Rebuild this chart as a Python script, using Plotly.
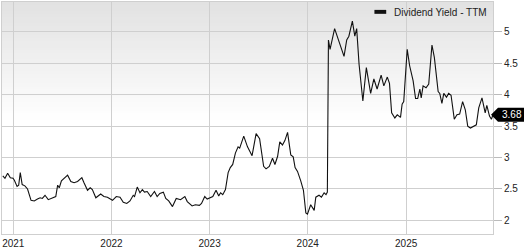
import plotly.graph_objects as go

series_name = "Dividend Yield - TTM"

dates = [
    "2020-11-23", "2020-12-01", "2020-12-11", "2020-12-21", "2020-12-31",
    "2021-01-05", "2021-01-15", "2021-01-21", "2021-01-27", "2021-02-03",
    "2021-02-13", "2021-02-23", "2021-03-08", "2021-03-20", "2021-04-01",
    "2021-04-11", "2021-04-19", "2021-04-29", "2021-05-11", "2021-05-21",
    "2021-05-31", "2021-06-08", "2021-06-15", "2021-06-21", "2021-06-29",
    "2021-07-22", "2021-08-03", "2021-08-15", "2021-08-28", "2021-09-13",
    "2021-09-21", "2021-10-04", "2021-10-14", "2021-10-22", "2021-11-04",
    "2021-11-22", "2021-12-04", "2021-12-17", "2022-01-05", "2022-01-19",
    "2022-02-02", "2022-02-14", "2022-02-27", "2022-03-11", "2022-03-23",
    "2022-03-28", "2022-04-07", "2022-04-17", "2022-04-26", "2022-05-04",
    "2022-05-14", "2022-05-27", "2022-06-10", "2022-06-20", "2022-06-30",
    "2022-07-13", "2022-07-22", "2022-08-02", "2022-08-16", "2022-08-30",
    "2022-09-15", "2022-10-01", "2022-10-10", "2022-10-28", "2022-11-09",
    "2022-11-24", "2022-12-02", "2022-12-14", "2022-12-23", "2023-01-04",
    "2023-01-13", "2023-01-25", "2023-02-04", "2023-02-11", "2023-02-19",
    "2023-03-01", "2023-03-11", "2023-03-19", "2023-03-28", "2023-04-07",
    "2023-04-17", "2023-04-23", "2023-05-08", "2023-05-22", "2023-06-08",
    "2023-06-23", "2023-07-06", "2023-07-21", "2023-07-30", "2023-08-11",
    "2023-08-23", "2023-09-01", "2023-09-11", "2023-09-19", "2023-09-29",
    "2023-10-08", "2023-10-18", "2023-10-30", "2023-11-08", "2023-11-15",
    "2023-11-24", "2023-12-06", "2023-12-16", "2023-12-25", "2023-12-31",
    "2024-01-12", "2024-01-25", "2024-01-31", "2024-02-12", "2024-02-21",
    "2024-03-02", "2024-03-09", "2024-03-14", "2024-03-18", "2024-03-24",
    "2024-04-10", "2024-04-26", "2024-05-15", "2024-05-25", "2024-06-02",
    "2024-06-15", "2024-06-24", "2024-07-01", "2024-07-10", "2024-07-24",
    "2024-08-06", "2024-08-22", "2024-09-03", "2024-09-15", "2024-09-30",
    "2024-10-10", "2024-10-23", "2024-10-31", "2024-11-08", "2024-11-20",
    "2024-11-29", "2024-12-11", "2024-12-17", "2024-12-23", "2025-01-05",
    "2025-01-14", "2025-01-23", "2025-01-27", "2025-02-05", "2025-02-13",
    "2025-02-21", "2025-02-26", "2025-03-05", "2025-03-16", "2025-03-26",
    "2025-04-07", "2025-04-16", "2025-04-30", "2025-05-06", "2025-05-14",
    "2025-05-21", "2025-05-31", "2025-06-08", "2025-06-17", "2025-06-29",
    "2025-07-09", "2025-07-19", "2025-07-30", "2025-08-09", "2025-08-18",
    "2025-08-28", "2025-09-09", "2025-09-19", "2025-09-28", "2025-10-10",
    "2025-10-22", "2025-10-28", "2025-11-07", "2025-11-14", "2025-11-20",
]

yield_ttm = [
    2.71, 2.67, 2.75, 2.68, 2.67,
    2.64, 2.54, 2.56, 2.76, 2.57,
    2.55, 2.50, 2.32, 2.31, 2.34,
    2.36, 2.35, 2.40, 2.33, 2.35,
    2.36, 2.38, 2.56, 2.52, 2.63,
    2.72, 2.62, 2.60, 2.62, 2.68,
    2.60, 2.48, 2.52, 2.49, 2.36,
    2.42, 2.38, 2.37, 2.32, 2.38,
    2.37, 2.29, 2.27, 2.31, 2.40,
    2.38, 2.53, 2.44, 2.49, 2.45,
    2.46, 2.38, 2.46, 2.38, 2.43,
    2.45, 2.35, 2.31, 2.22, 2.35,
    2.33, 2.38, 2.30, 2.23, 2.25,
    2.24, 2.27, 2.38, 2.34, 2.36,
    2.38, 2.48, 2.39, 2.44, 2.41,
    2.49, 2.76, 2.84, 2.89, 3.07,
    3.17, 3.15, 3.34, 3.17, 3.03,
    3.38, 3.30, 2.86, 2.82, 2.86,
    2.99, 2.89, 3.02, 3.25, 3.20,
    3.27, 3.40, 3.04, 3.01, 2.84,
    2.78, 2.63, 2.48, 2.12, 2.10,
    2.25, 2.16, 2.37, 2.40, 2.37,
    2.44, 2.41, 2.45, 4.87, 4.72,
    5.05, 4.84, 4.61, 4.87, 4.93,
    5.17, 4.93, 5.05, 4.48, 3.90,
    4.43, 4.02, 4.25, 4.09, 4.31,
    4.14, 4.28, 4.18, 3.71, 3.63,
    3.68, 3.64, 3.85, 3.89, 4.72,
    4.46, 4.28, 4.22, 3.94, 3.94,
    4.09, 3.95, 4.14, 4.11, 4.17,
    4.79, 4.59, 4.05, 4.02, 3.86,
    4.02, 3.96, 4.02, 3.99, 3.61,
    3.68, 3.69, 3.89, 3.76, 3.50,
    3.47, 3.50, 3.52, 3.79, 3.95,
    3.71, 3.83, 3.66, 3.61, 3.68,
]

x_range = ["2020-11-20", "2025-11-20"]
y_range = [1.784, 5.474]
year_ticks = ["2021-01-01", "2022-01-01", "2023-01-01", "2024-01-01", "2025-01-01"]
year_labels = ["2021", "2022", "2023", "2024", "2025"]
y_ticks = [2, 2.5, 3, 3.5, 4, 4.5, 5]
y_tick_labels = ["2", "2.5", "3", "3.5", "4", "4.5", "5"]

FONT = "Liberation Sans, Arial, sans-serif"
GRID = "#cfcfcf"

fig = go.Figure()
fig.add_trace(go.Scatter(
    x=dates, y=yield_ttm, mode="lines", name=series_name,
    line=dict(color="#111111", width=1.1),
    showlegend=False, hoverinfo="skip",
))

shapes = []
# vertical grey-to-white gradient in the upper half of the plot area
n = 40
g0, g1 = 0.48, 1.0
for i in range(n):
    frac = i / (n - 1)
    c = int(round(255 - (255 - 226) * frac))
    shapes.append(dict(
        type="rect", xref="paper", yref="paper", layer="below",
        x0=0, x1=1,
        y0=g0 + (g1 - g0) * i / n, y1=g0 + (g1 - g0) * (i + 1) / n + 0.002,
        fillcolor=f"rgb({c},{c},{c})", line=dict(width=0),
    ))
# legend swatch
shapes.append(dict(
    type="rect", xref="paper", yref="paper", layer="above",
    x0=0.7585, x1=0.7825, y0=0.949, y1=0.966,
    fillcolor="#111111", line=dict(width=0),
))
# last-value tag
shapes.append(dict(
    type="path", xref="paper", yref="y",
    xsizemode="pixel", ysizemode="pixel",
    xanchor=1, yanchor=yield_ttm[-1],
    path="M -2,0 L 5,7 L 31,7 L 31,-7 L 5,-7 Z",
    fillcolor="#000000", line=dict(width=0), layer="above",
))

annotations = [
    dict(text=series_name, xref="paper", yref="paper", x=0.7935, y=0.955,
         xanchor="left", yanchor="middle", showarrow=False,
         font=dict(family=FONT, size=10, color="#222222")),
    dict(text=f"{yield_ttm[-1]:.2f}", xref="paper", yref="y", x=1,
         y=yield_ttm[-1], xanchor="center", yanchor="middle", xshift=19,
         showarrow=False, font=dict(family=FONT, size=10, color="#ffffff")),
]

fig.update_layout(
    width=528, height=250,
    margin=dict(l=1, r=35, t=1, b=10),
    paper_bgcolor="#ffffff", plot_bgcolor="rgba(0,0,0,0)",
    font=dict(family=FONT, size=10, color="#222222"),
    shapes=shapes, annotations=annotations,
    showlegend=False,
    xaxis=dict(
        type="date", range=x_range, tickvals=year_ticks, ticktext=year_labels,
        showgrid=True, gridcolor=GRID, gridwidth=1,
        showline=True, linecolor=GRID, linewidth=1, mirror=True,
        ticks="", zeroline=False,
        tickfont=dict(family=FONT, size=10, color="#222222"),
    ),
    yaxis=dict(
        side="right", range=y_range, tickvals=y_ticks, ticktext=y_tick_labels,
        showgrid=True, gridcolor=GRID, gridwidth=1,
        showline=True, linecolor=GRID, linewidth=1, mirror=True,
        ticks="outside", ticklen=8, tickcolor="#bbbbbb", tickwidth=1,
        zeroline=False,
        tickfont=dict(family=FONT, size=10, color="#222222"),
    ),
)

fig.write_html("out.html")
